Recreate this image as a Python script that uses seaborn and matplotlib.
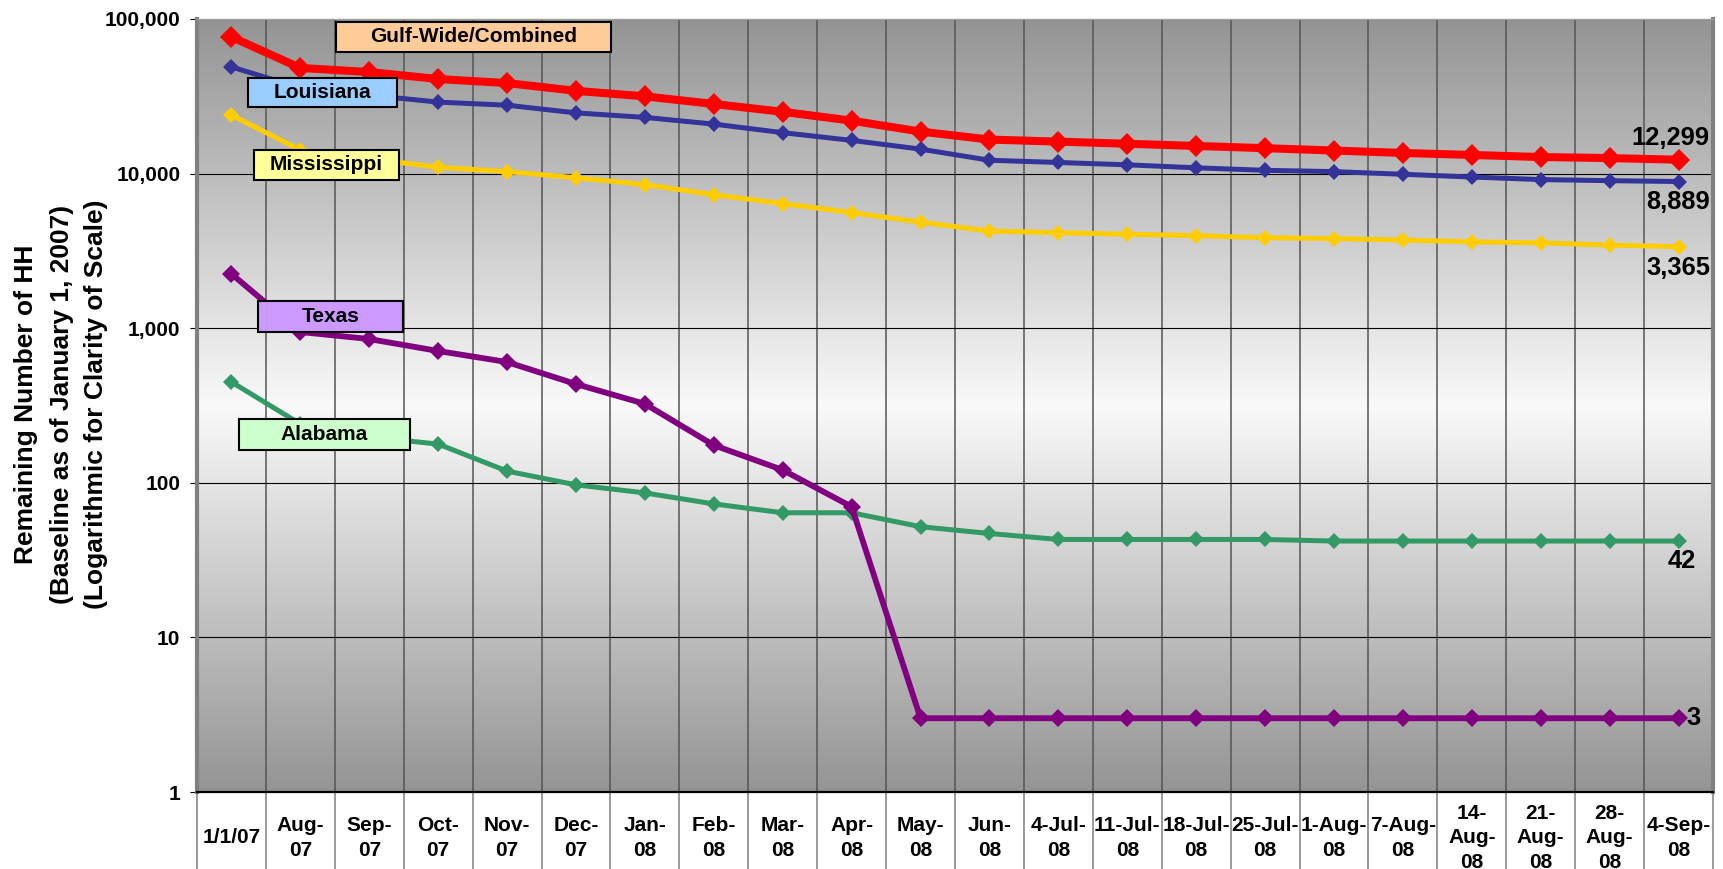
import numpy as np
import pandas as pd
import seaborn as sns
import matplotlib.pyplot as plt
import matplotlib.transforms as mtransforms
from matplotlib.patches import Rectangle
from matplotlib.ticker import FixedLocator, NullLocator, FuncFormatter

sns.set_theme(style="white")
plt.rcParams["font.family"] = ["Liberation Sans", "DejaVu Sans"]
plt.rcParams["font.weight"] = "bold"
plt.rcParams["text.color"] = "black"

# data
dates = ["1/1/07", "Aug-\n07", "Sep-\n07", "Oct-\n07", "Nov-\n07", "Dec-\n07",
         "Jan-\n08", "Feb-\n08", "Mar-\n08", "Apr-\n08", "May-\n08", "Jun-\n08",
         "4-Jul-\n08", "11-Jul-\n08", "18-Jul-\n08", "25-Jul-\n08", "1-Aug-\n08",
         "7-Aug-\n08", "14-\nAug-\n08", "21-\nAug-\n08", "28-\nAug-\n08", "4-Sep-\n08"]
gulf = [76600, 48200, 45400, 40900, 38500, 34300, 31600, 28200, 25100, 22000, 18700,
        16600, 16100, 15600, 15100, 14600, 14100, 13600, 13200, 12800, 12600, 12299]
louisiana = [49000, 35800, 32200, 29000, 27700, 24700, 23100, 20900, 18400, 16400, 14400,
             12200, 11800, 11400, 10900, 10500, 10300, 9900, 9500, 9150, 9000, 8889]
mississippi = [23900, 14200, 12500, 11000, 10300, 9400, 8500, 7300, 6400, 5600, 4850,
               4250, 4150, 4050, 3970, 3850, 3800, 3720, 3620, 3560, 3450, 3365]
texas = [2245, 945, 851, 712, 604, 435, 324, 175, 121, 70, 3,
         3, 3, 3, 3, 3, 3, 3, 3, 3, 3, 3]
alabama = [449, 240, 198, 178, 119, 97, 86, 73, 64, 64, 52,
           47, 43, 43, 43, 43, 42, 42, 42, 42, 42, 42]

ylabel_lines = ["Remaining Number of HH",
                "(Baseline as of January 1, 2007)",
                "(Logarithmic for Clarity of Scale)"]

df = pd.DataFrame({"idx": range(len(dates)),
                   "Gulf-Wide/Combined": gulf, "Louisiana": louisiana,
                   "Mississippi": mississippi, "Texas": texas, "Alabama": alabama})
long = df.melt(id_vars="idx", var_name="state", value_name="hh")

colors = {"Gulf-Wide/Combined": "#ff0000", "Louisiana": "#333399",
          "Mississippi": "#ffcc00", "Texas": "#800080", "Alabama": "#339966"}
widths = {"Gulf-Wide/Combined": 5.8, "Louisiana": 3.6, "Mississippi": 3.6,
          "Texas": 4.2, "Alabama": 3.6}
msizes = {"Gulf-Wide/Combined": 11, "Louisiana": 8, "Mississippi": 8.5,
          "Texas": 9.5, "Alabama": 8}
draw_order = ["Alabama", "Texas", "Mississippi", "Louisiana", "Gulf-Wide/Combined"]

# figure layout in pixels
W, H = 1723, 869
L, R, T, B = 197, 1713, 19, 792
fig = plt.figure(figsize=(W / 100, H / 100), dpi=100)
fig.patch.set_facecolor("white")
pos = [L / W, 1 - B / H, (R - L) / W, (B - T) / H]

# grey -> white -> grey background
bg = fig.add_axes(pos, zorder=0)
t = np.linspace(0, 1, 400)
shade = 1 - np.abs(2 * t - 1)
edge, center = 148 / 255, 249 / 255
col = edge + (center - edge) * shade
bg.imshow(np.repeat(col[:, None, None], 3, axis=2), aspect="auto", extent=(0, 1, 0, 1))
bg.axis("off")

ax = fig.add_axes(pos, zorder=1)
ax.set_facecolor("none")
ax.set_yscale("log")

for name in draw_order:
    sns.lineplot(data=long[long.state == name], x="idx", y="hh", color=colors[name],
                 lw=widths[name], marker="D", markersize=msizes[name],
                 markeredgewidth=0, ax=ax, legend=False, errorbar=None)

ax.set_xlabel("")
ax.set_ylabel("")
ax.set_ylim(1, 100000)
ax.set_xlim(-0.5, len(dates) - 0.5)

ax.yaxis.set_major_locator(FixedLocator([1, 10, 100, 1000, 10000, 100000]))
ax.yaxis.set_minor_locator(NullLocator())
ax.yaxis.set_major_formatter(FuncFormatter(lambda v, p: f"{int(v):,}"))
ax.tick_params(axis="y", which="major", length=5, width=0.8, color="black",
               direction="out", pad=7, labelsize=15, labelcolor="black", left=True)
ax.set_xticks([])
ax.set_xticks(np.arange(-0.5, len(dates)), minor=True)
ax.tick_params(axis="x", which="minor", length=55.5, width=1.1, color="#7f7f7f",
               direction="out", bottom=True)
ax.grid(True, which="minor", axis="x", color="#555555", lw=1.1)
ax.grid(True, which="major", axis="y", color="black", lw=0.8)
ax.set_axisbelow(True)

for s in ["left", "right"]:
    ax.spines[s].set_color("#808080")
    ax.spines[s].set_linewidth(3)
ax.spines["top"].set_color("#a0a0a0")
ax.spines["top"].set_linewidth(1)
ax.spines["bottom"].set_color("black")
ax.spines["bottom"].set_linewidth(1.6)

# category labels in the cells below the plot
trans = mtransforms.blended_transform_factory(ax.transData, ax.transAxes)
for i, lab in enumerate(dates):
    ax.text(i, -0.0595, lab, transform=trans, ha="center", va="center", fontsize=15,
            fontweight="bold", linespacing=1.36, clip_on=False)

# end-of-line value labels
last = len(dates) - 1
ends = [(gulf, (-6, 7), "center", "bottom"),
        (louisiana, (0, -6), "center", "top"),
        (mississippi, (0, -7), "center", "top"),
        (alabama, (2, -6), "center", "top"),
        (texas, (6, 0), "left", "center")]
for vals, off, ha, va in ends:
    ax.annotate(f"{vals[last]:,}", (last, vals[last]), xytext=off,
                textcoords="offset points", ha=ha, va=va, fontsize=18.4,
                fontweight="bold", zorder=6)


# series name boxes
def name_box(text, x0, y0, x1, y1, fc):
    ax.add_patch(Rectangle(((x0 - L) / (R - L), (B - y1) / (B - T)),
                           (x1 - x0) / (R - L), (y1 - y0) / (B - T),
                           transform=ax.transAxes, fc=fc, ec="black", lw=1.5,
                           zorder=5, clip_on=False))
    ax.text(((x0 + x1) / 2 - L) / (R - L), (B - (y0 + y1) / 2) / (B - T), text,
            transform=ax.transAxes, ha="center", va="center", fontsize=15,
            fontweight="bold", zorder=6)


name_box("Gulf-Wide/Combined", 336, 22, 611, 52, "#ffcc99")
name_box("Louisiana", 248, 78, 397, 107, "#99ccff")
name_box("Mississippi", 254, 150, 399, 180, "#ffff99")
name_box("Texas", 258, 301, 403, 332, "#cc99ff")
name_box("Alabama", 239, 419, 410, 450, "#ccffcc")

for xpx, line in zip([26, 62, 96], ylabel_lines):
    fig.text(xpx / W, 1 - 404.5 / H, line, rotation=90, ha="center", va="center",
             fontsize=19, fontweight="bold")

fig.savefig("out.png", dpi=100)
